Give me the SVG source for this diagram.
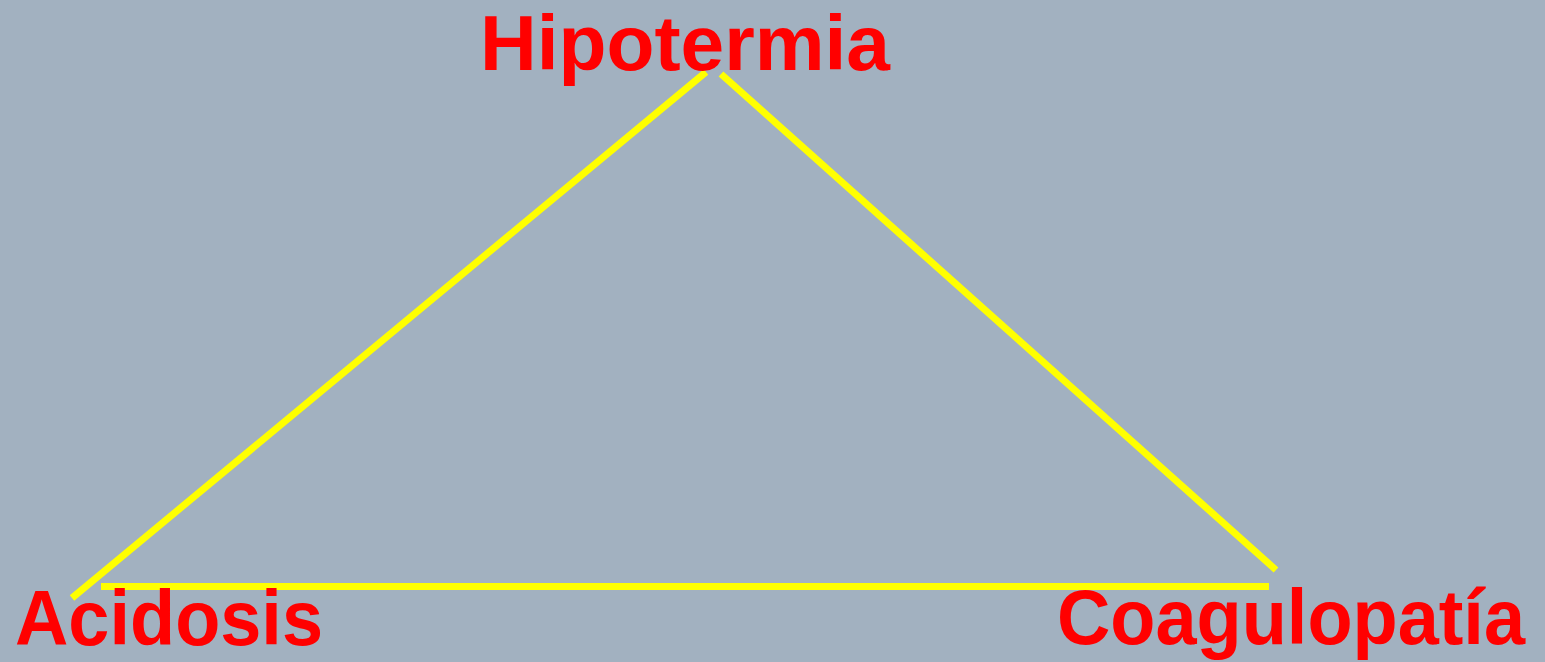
<svg xmlns="http://www.w3.org/2000/svg" width="1545" height="662" viewBox="0 0 1545 662">
<style>
.lbl{font-family:"Liberation Sans",Arial,sans-serif;font-weight:bold;font-size:78px;fill:#FF0000}
.edge{stroke:#FFFF00;stroke-width:7;fill:none}
</style>
<rect width="1545" height="662" fill="#A2B1C0"/>
<g id="connectors">
<line class="edge" x1="72" y1="598" x2="706" y2="72"/>
<line class="edge" x1="721" y1="74" x2="1276" y2="570"/>
<line class="edge" x1="101" y1="586.5" x2="1269" y2="586.5" stroke-width="8"/>
</g>
<g id="hipotermia"><text class="lbl" x="480" y="70" textLength="410" lengthAdjust="spacingAndGlyphs">Hipotermia</text></g>
<g id="acidosis"><text class="lbl" x="15" y="645" textLength="308" lengthAdjust="spacingAndGlyphs">Acidosis</text></g>
<g id="coagulopatia"><text class="lbl" x="1525" y="644" font-size="77" text-anchor="end" textLength="468" lengthAdjust="spacingAndGlyphs">Coagulopatía</text></g>
</svg>
